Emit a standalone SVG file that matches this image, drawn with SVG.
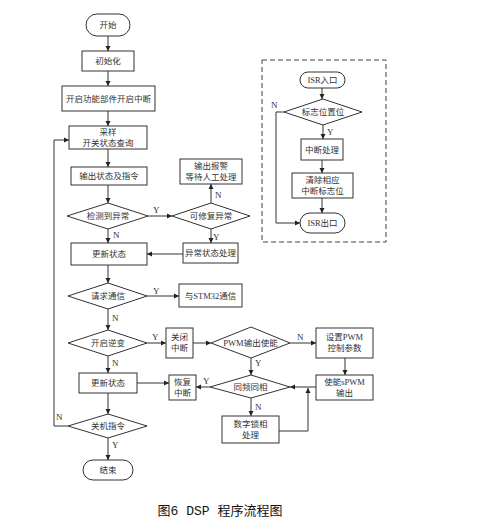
<svg xmlns="http://www.w3.org/2000/svg" width="484" height="529" viewBox="0 0 484 529">
<style>
.b{fill:#fff;stroke:#333;stroke-width:1}
.c{fill:none;stroke:#333;stroke-width:1}
.t{font-family:"Liberation Serif","Noto Sans CJK SC",serif;font-size:8.5px;fill:#333;text-anchor:middle}
.l{font-family:"Liberation Serif","Noto Sans CJK SC",serif;font-size:9px;fill:#333}
</style>
<defs>
<marker id="a" markerWidth="6" markerHeight="6" refX="5" refY="3" orient="auto" markerUnits="userSpaceOnUse">
<path d="M0,0.5 L5,3 L0,5.5 z" fill="#222"/>
</marker>
</defs>
<rect width="484" height="529" fill="#fff"/>
<g id="connectors">
<path class="c" d="M108,36 V51" marker-end="url(#a)"/>
<path class="c" d="M108,71 V86" marker-end="url(#a)"/>
<path class="c" d="M108,111 V126" marker-end="url(#a)"/>
<path class="c" d="M108,149 V167" marker-end="url(#a)"/>
<path class="c" d="M108,185 V203" marker-end="url(#a)"/>
<path class="c" d="M148,216 H172" marker-end="url(#a)"/>
<path class="c" d="M211,203 V184" marker-end="url(#a)"/>
<path class="c" d="M211,229 V243" marker-end="url(#a)"/>
<path class="c" d="M183,254 H147" marker-end="url(#a)"/>
<path class="c" d="M108,229 V243" marker-end="url(#a)"/>
<path class="c" d="M108,265 V283" marker-end="url(#a)"/>
<path class="c" d="M147,296 H179" marker-end="url(#a)"/>
<path class="c" d="M108,309 V330" marker-end="url(#a)"/>
<path class="c" d="M147,343 H166" marker-end="url(#a)"/>
<path class="c" d="M193,343 H211" marker-end="url(#a)"/>
<path class="c" d="M290,343 H316" marker-end="url(#a)"/>
<path class="c" d="M345,358 V375" marker-end="url(#a)"/>
<path class="c" d="M316,387 H290" marker-end="url(#a)"/>
<path class="c" d="M251,358 V375" marker-end="url(#a)"/>
<path class="c" d="M210,387 H196" marker-end="url(#a)"/>
<path class="c" d="M108,356 V373" marker-end="url(#a)"/>
<path class="c" d="M137,383 H169" marker-end="url(#a)"/>
<path class="c" d="M108,393 V414" marker-end="url(#a)"/>
<path class="c" d="M68,426 H54 V140 H69" marker-end="url(#a)"/>
<path class="c" d="M108,438 V460" marker-end="url(#a)"/>
<path class="c" d="M251,398 V416" marker-end="url(#a)"/>
<path class="c" d="M279,431 H308 V388" marker-end="url(#a)"/>
<path class="c" d="M322,88 V99" marker-end="url(#a)"/>
<path class="c" d="M284,112 H276 V223 H300" marker-end="url(#a)"/>
<path class="c" d="M323,125 V139" marker-end="url(#a)"/>
<path class="c" d="M322,160 V173" marker-end="url(#a)"/>
<path class="c" d="M322,198 V213" marker-end="url(#a)"/>
<text class="l" x="153" y="213">Y</text>
<text class="l" x="215" y="198">N</text>
<text class="l" x="213" y="240">Y</text>
<text class="l" x="113" y="238">N</text>
<text class="l" x="153" y="294">Y</text>
<text class="l" x="112" y="321">N</text>
<text class="l" x="152" y="340">Y</text>
<text class="l" x="112" y="366">N</text>
<text class="l" x="297" y="340">N</text>
<text class="l" x="255" y="366">Y</text>
<text class="l" x="203" y="384">Y</text>
<text class="l" x="255" y="410">N</text>
<text class="l" x="56" y="420">N</text>
<text class="l" x="112" y="448">Y</text>
<text class="l" x="271" y="108">N</text>
<text class="l" x="327" y="135">Y</text>
</g>
<g id="isr-frame"><rect x="262" y="60" width="124" height="182" fill="none" stroke="#444" stroke-width="1" stroke-dasharray="5,3"/></g>
<g id="start"><rect class="b" x="86" y="14" width="44" height="22" rx="11"/><text class="t" x="108" y="28">开始</text></g>
<g id="init"><rect class="b" x="82" y="51" width="52" height="20"/><text class="t" x="108" y="64">初始化</text></g>
<g id="enable"><rect class="b" x="62" y="86" width="93" height="25"/><text class="t" x="108.5" y="101.5">开启功能部件开启中断</text></g>
<g id="sample"><rect class="b" x="69" y="126" width="78" height="23"/><text class="t" x="108" y="135">采样</text><text class="t" x="108" y="146">开关状态查询</text></g>
<g id="output"><rect class="b" x="71" y="167" width="76" height="18"/><text class="t" x="109" y="179">输出状态及指令</text></g>
<g id="detect"><polygon class="b" points="67,216 108,203 148,216 108,229"/><text class="t" x="108" y="219">检测到异常</text></g>
<g id="repair"><polygon class="b" points="172,216 211,203 250,216 211,229"/><text class="t" x="211" y="219">可修复异常</text></g>
<g id="alarm"><rect class="b" x="180" y="159" width="62" height="25"/><text class="t" x="211" y="169">输出报警</text><text class="t" x="211" y="180">等待人工处理</text></g>
<g id="abnormal"><rect class="b" x="183" y="243" width="55" height="20" stroke-width="1.5"/><text class="t" x="210.5" y="256">异常状态处理</text></g>
<g id="update1"><rect class="b" x="71" y="243" width="76" height="22"/><text class="t" x="109" y="257">更新状态</text></g>
<g id="comm"><polygon class="b" points="68,296 108,283 147,296 108,309"/><text class="t" x="108" y="299">请求通信</text></g>
<g id="stm32"><rect class="b" x="179" y="284" width="63" height="23"/><text class="t" x="210.5" y="298.5">与STM32通信</text></g>
<g id="inverter"><polygon class="b" points="68,343 108,330 147,343 108,356"/><text class="t" x="108" y="346">开启逆变</text></g>
<g id="close-int"><rect class="b" x="166" y="328" width="27" height="30"/><text class="t" x="179.5" y="340">关闭</text><text class="t" x="179.5" y="351">中断</text></g>
<g id="pwm-en"><polygon class="b" points="211,343 251,327 290,343 251,358"/><text class="t" x="250.5" y="346">PWM输出使能</text></g>
<g id="set-pwm"><rect class="b" x="316" y="328" width="57" height="30"/><text class="t" x="344.5" y="340">设置PWM</text><text class="t" x="344.5" y="351">控制参数</text></g>
<g id="spwm"><rect class="b" x="316" y="375" width="57" height="25"/><text class="t" x="344.5" y="385">使能sPWM</text><text class="t" x="344.5" y="396">输出</text></g>
<g id="sync"><polygon class="b" points="210,387 251,375 290,387 251,398"/><text class="t" x="250.5" y="390">同频同相</text></g>
<g id="resume-int"><rect class="b" x="169" y="375" width="27" height="25"/><text class="t" x="182.5" y="385">恢复</text><text class="t" x="182.5" y="396">中断</text></g>
<g id="update2"><rect class="b" x="79" y="373" width="58" height="20"/><text class="t" x="108" y="386">更新状态</text></g>
<g id="pll"><rect class="b" x="222" y="416" width="57" height="27"/><text class="t" x="250.5" y="427">数字锁相</text><text class="t" x="250.5" y="438">处理</text></g>
<g id="shutdown"><polygon class="b" points="68,426 108,414 147,426 108,438"/><text class="t" x="108" y="429">关机指令</text></g>
<g id="end"><rect class="b" x="83" y="460" width="50" height="20" rx="10"/><text class="t" x="108" y="473">结束</text></g>
<g id="isr-in"><rect class="b" x="300" y="72" width="45" height="16" rx="8"/><text class="t" x="322.5" y="83">ISR入口</text></g>
<g id="flag"><polygon class="b" points="284,112 323,99 362,112 323,125"/><text class="t" x="323" y="115">标志位置位</text></g>
<g id="isr-proc"><rect class="b" x="301" y="139" width="42" height="21"/><text class="t" x="322" y="152.5">中断处理</text></g>
<g id="clear"><rect class="b" x="292" y="173" width="61" height="25"/><text class="t" x="322.5" y="183">清除相应</text><text class="t" x="322.5" y="194">中断标志位</text></g>
<g id="isr-out"><rect class="b" x="300" y="213" width="45" height="20" rx="10"/><text class="t" x="322.5" y="226">ISR出口</text></g>
<text x="220" y="515" font-family="Liberation Mono,Noto Sans CJK SC,monospace" font-size="13" fill="#111" text-anchor="middle">图6 DSP 程序流程图</text>
</svg>
